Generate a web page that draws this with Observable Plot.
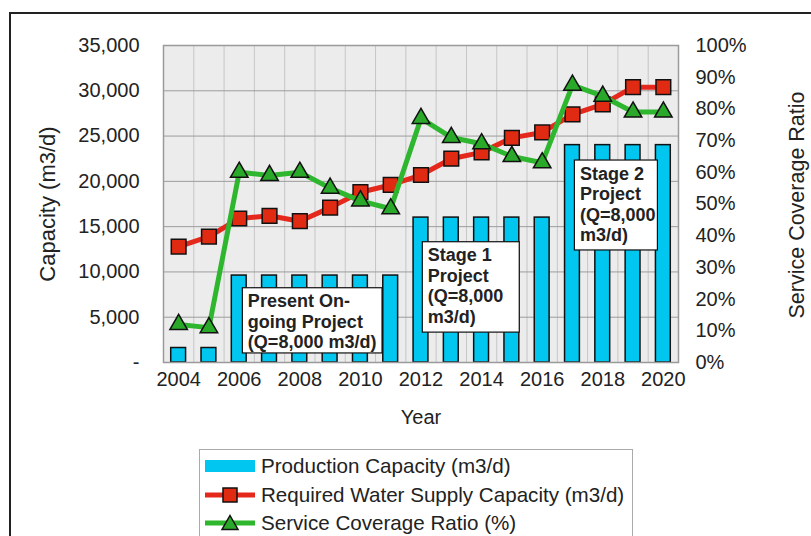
<!DOCTYPE html>
<html>
<head>
<meta charset="utf-8">
<script src="https://cdn.jsdelivr.net/npm/d3@7"></script>
<script src="https://cdn.jsdelivr.net/npm/@observablehq/plot@0.6"></script>
<style>
  html, body { margin: 0; padding: 0; background: #fff; overflow: hidden; }
  #wrap { position: relative; width: 811px; height: 536px; overflow: hidden; font-family: "Liberation Sans", Arial, sans-serif; }
  #outer { position: absolute; left: 9px; top: 12px; width: 1000px; height: 1000px; border-left: 2px solid #222; border-top: 2px solid #222; }
  #chart { position: absolute; left: 0; top: 0; }
  #legend { position: absolute; left: 199px; top: 449px; width: 432px; height: 95px; border: 1.5px solid #aaa; background: #fff; }
  .row { position: absolute; left: 0; height: 28px; display: flex; align-items: center; font-size: 20.6px; color: #222; white-space: nowrap; }
  .row svg { margin-left: 5px; margin-right: 6px; }
</style>
</head>
<body>
<div id="wrap">
  <div id="outer"></div>
  <div id="chart"></div>
  <div id="legend"></div>
</div>
<script>
// ---- data ----
const years = [2004,2005,2006,2007,2008,2009,2010,2011,2012,2013,2014,2015,2016,2017,2018,2019,2020];
const productionCapacity = [1600,1600,9600,9600,9600,9600,9600,9600,16000,16000,16000,16000,16000,24000,24000,24000,24000];
const requiredCapacity = [12800,13900,15900,16200,15600,17100,18800,19600,20700,22500,23200,24800,25400,27400,28500,30400,30400];
const coverageRatio = [12,11,60,59,60,55,51,48.5,77,71,69,65,63,87.5,84,79,79];
const leftTicks = [0,5000,10000,15000,20000,25000,30000,35000];
const rightTicks = [0,10,20,30,40,50,60,70,80,90,100];
const xTicks = [2004,2006,2008,2010,2012,2014,2016,2018,2020];
const seriesNames = ["Production Capacity (m3/d)", "Required Water Supply Capacity (m3/d)", "Service Coverage Ratio (%)"];
const axisTitles = {left: "Capacity (m3/d)", right: "Service Coverage Ratio", bottom: "Year"};
const noteLabels = ["Present On-\ngoing Project\n(Q=8,000 m3/d)", "Stage 1\nProject\n(Q=8,000\nm3/d)", "Stage 2\nProject\n(Q=8,000\nm3/d)"];
// annotation box extents in data units (year, m3/d)
const noteX1 = [2006.12, 2012.06, 2017.08];
const noteX2 = [2010.73, 2015.26, 2019.82];
const noteY1 = [1000, 3300, 12370];
const noteY2 = [8200, 13280, 22300];

// ---- build ----
const yMax = 35000;
const pctToY = p => p / 100 * yMax;
const data = years.map((year, i) => ({year, capacity: productionCapacity[i], required: requiredCapacity[i], coverage: coverageRatio[i]}));
const notes = noteLabels.map((text, i) => ({text, x1: noteX1[i], x2: noteX2[i], y1: noteY1[i], y2: noteY2[i]}));
const halfYears = years.slice(0, -1).map(y => y + 0.5);

const colors = {bar: "#00c6f0", red: "#e5281c", redDot: "#e02b12", green: "#2fb62f", greenDot: "#2aa82a"};

const chart = Plot.plot({
  width: 811, height: 536,
  marginLeft: 163, marginRight: 133, marginTop: 45, marginBottom: 174,
  x: {domain: [2003.5, 2020.5]},
  y: {domain: [0, yMax]},
  style: {fontFamily: "'Liberation Sans', Arial, sans-serif", fontSize: "20px", color: "#222", background: "transparent", overflow: "visible"},
  marks: [
    Plot.frame({fill: "#ececec"}),
    Plot.gridX(halfYears, {stroke: "#c6c6c6", strokeOpacity: 1}),
    Plot.gridY(leftTicks, {stroke: "#9c9c9c", strokeOpacity: 1}),
    Plot.axisY(leftTicks, {anchor: "left", tickSize: 0, tickPadding: 24, label: null,
      tickFormat: d => d === 0 ? "-" : d3.format(",")(d)}),
    Plot.axisY(rightTicks.map(pctToY), {anchor: "right", tickSize: 0, tickPadding: 17, label: null,
      tickFormat: d => Math.round(d / yMax * 100) + "%"}),
    Plot.axisX(xTicks, {anchor: "bottom", tickSize: 0, tickPadding: 9, label: null, tickFormat: d3.format("d")}),
    Plot.rectY(data, {x1: d => d.year - 0.245, x2: d => d.year + 0.245, y: "capacity",
      fill: colors.bar, stroke: "#111", strokeWidth: 1.5}),
    Plot.rect(notes, {x1: "x1", x2: "x2", y1: "y1", y2: "y2", fill: "#fff", stroke: "#111", strokeWidth: 1.2}),
    Plot.text(notes, {x: "x1", y: "y2", text: "text", dx: 5, dy: 4.5, textAnchor: "start", lineAnchor: "top",
      fontWeight: "bold", fontSize: 18, lineHeight: 1.14, fill: "#222"}),
    Plot.line(data, {x: "year", y: "required", stroke: colors.red, strokeWidth: 5}),
    Plot.dot(data, {x: "year", y: "required", symbol: "square", r: 8.3, fill: colors.redDot, stroke: "#111", strokeWidth: 1.5}),
    Plot.line(data, {x: "year", y: d => pctToY(d.coverage), stroke: colors.green, strokeWidth: 5}),
    Plot.dot(data, {x: "year", y: d => pctToY(d.coverage), symbol: "triangle", r: 6.5, fill: colors.greenDot, stroke: "#111", strokeWidth: 1.5}),
    Plot.frame({stroke: "#9a9a9a", strokeWidth: 1.5}),
    Plot.text([axisTitles.left], {frameAnchor: "left", dx: -116, rotate: -90, textAnchor: "middle", lineAnchor: "middle", fontSize: 22, fill: "#222"}),
    Plot.text([axisTitles.right], {frameAnchor: "right", dx: 119, dy: 1, rotate: -90, textAnchor: "middle", lineAnchor: "middle", fontSize: 21.5, fill: "#222"}),
    Plot.text([axisTitles.bottom], {frameAnchor: "bottom", dy: 55, textAnchor: "middle", lineAnchor: "middle", fontSize: 20, fill: "#222"})
  ]
});
document.getElementById("chart").appendChild(chart);

// ---- legend ----
const legend = document.getElementById("legend");
const swatches = [
  `<svg width="50" height="20"><rect x="0" y="4" width="50" height="12" fill="${colors.bar}"/></svg>`,
  `<svg width="50" height="20"><line x1="0" x2="50" y1="10" y2="10" stroke="${colors.red}" stroke-width="5"/><rect x="18" y="3" width="14" height="14" fill="${colors.redDot}" stroke="#111" stroke-width="1.5"/></svg>`,
  `<svg width="50" height="20"><line x1="0" x2="50" y1="10" y2="10" stroke="${colors.green}" stroke-width="5"/><path d="M25,2.5 L33,16.5 L17,16.5 Z" fill="${colors.greenDot}" stroke="#111" stroke-width="1.5"/></svg>`
];
const rowTops = [2, 31, 59];
seriesNames.forEach((name, i) => {
  const row = document.createElement("div");
  row.className = "row";
  row.style.top = rowTops[i] + "px";
  row.innerHTML = swatches[i] + `<span>${name}</span>`;
  legend.appendChild(row);
});
</script>
</body>
</html>
